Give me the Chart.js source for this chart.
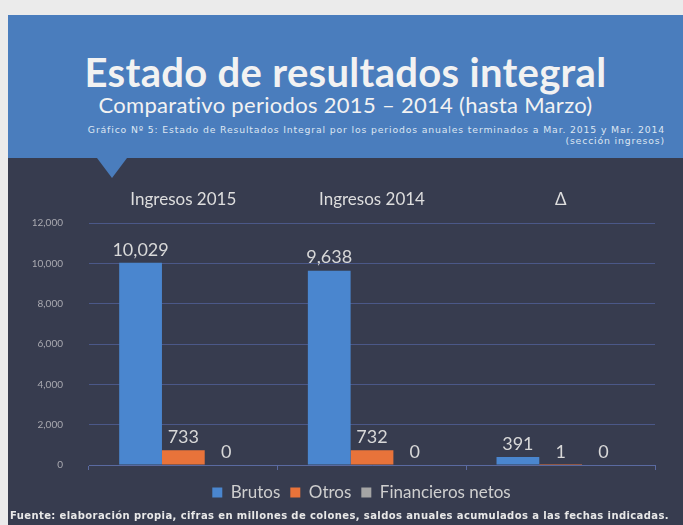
<!DOCTYPE html>
<html>
<head>
<meta charset="utf-8">
<script src="https://cdn.jsdelivr.net/npm/chart.js@4"></script>
<style>
  body { margin: 0; width: 683px; height: 525px; background: #ebebeb; overflow: hidden; font-family: Lato, sans-serif; }
  #header { position: absolute; left: 8px; top: 15px; width: 675px; height: 143px; background: #4a7dbd; color: #f2f2f2; }
  #title { position: absolute; left: 0; width: 675px; top: 33px; text-align: center; font-size: 40px; font-weight: bold; letter-spacing: 0.3px; }
  #subtitle { position: absolute; left: 0; width: 675px; top: 76px; text-align: center; font-size: 22px; letter-spacing: 0.3px; }
  #note { position: absolute; right: 18px; top: 109px; text-align: right; font-family: 'DejaVu Sans', sans-serif; font-size: 9.3px; line-height: 11px; color: #dde6f2; letter-spacing: 0.85px; }
  #panel { position: absolute; left: 8px; top: 158px; width: 675px; height: 367px; background: #373c4f; }
  #pointer { position: absolute; left: 97px; top: 158px; width: 0; height: 0; border-left: 15px solid transparent; border-right: 15px solid transparent; border-top: 20px solid #4a7dbd; }
  #wrap { position: absolute; left: 8px; top: 158px; width: 675px; height: 353px; }
  #footer { position: absolute; left: 10px; top: 510px; font-family: 'DejaVu Sans', sans-serif; font-size: 10px; font-weight: bold; color: #e8e8e8; letter-spacing: 0.4px; }
</style>
</head>
<body>
<div id="header">
  <div id="title">Estado de resultados integral</div>
  <div id="subtitle">Comparativo periodos 2015 – 2014 (hasta Marzo)</div>
  <div id="note">Gráfico Nº 5: Estado de Resultados Integral por los periodos anuales terminados a Mar. 2015 y Mar. 2014<br>(sección ingresos)</div>
</div>
<div id="panel"></div>
<div id="pointer"></div>
<div id="wrap"><canvas id="chart" width="675" height="353"></canvas></div>
<div id="footer">Fuente: elaboración propia, cifras en millones de colones, saldos anuales acumulados a las fechas indicadas.</div>
<script>
const categories = ['Ingresos 2015', 'Ingresos 2014', 'Δ'];
const brutos = [10029, 9638, 391];
const otros = [733, 732, 1];
const financieros = [0, 0, 0];
const yTicks = [0, 2000, 4000, 6000, 8000, 10000, 12000];

// value labels above each bar
const barValues = {
    id: 'barValues',
    afterDatasetsDraw(chart) {
        const ctx = chart.ctx;
        ctx.save();
        ctx.font = '18px Lato, sans-serif';
        ctx.fillStyle = '#d8d8d8';
        ctx.textAlign = 'center';
        ctx.textBaseline = 'bottom';
        chart.data.datasets.forEach((ds, i) => {
            chart.getDatasetMeta(i).data.forEach((bar, j) => {
                ctx.fillText(ds.data[j].toLocaleString('en-US'), bar.x, bar.y - 4);
            });
        });
        ctx.restore();
    }
};

// legend sits a bit right of centre in the original
const legendShift = {
    id: 'legendShift',
    afterLayout(chart) {
        chart.legend.left += 30;
        chart.legend.right += 30;
    }
};

new Chart(document.getElementById('chart'), {
    type: 'bar',
    data: {
        labels: categories,
        datasets: [
            { label: 'Brutos', data: brutos, backgroundColor: '#4a86cf' },
            { label: 'Otros', data: otros, backgroundColor: '#e8733a' },
            { label: 'Financieros netos', data: financieros, backgroundColor: '#a5a5a5' }
        ]
    },
    options: {
        responsive: false,
        animation: false,
        categoryPercentage: 0.68,
        barPercentage: 1,
        layout: { padding: { left: 0, right: 28, top: 0, bottom: 0 } },
        plugins: {
            legend: {
                position: 'bottom',
                labels: { color: '#cfcfcf', font: { size: 17, family: 'Lato' }, boxWidth: 10, boxHeight: 10, padding: 10 }
            },
            tooltip: { enabled: false }
        },
        scales: {
            x: {
                position: 'top',
                grid: { display: false },
                border: { display: false },
                ticks: { color: '#dedede', font: { size: 17, family: 'Lato' }, padding: 5, maxRotation: 0 },
                afterFit: s => { s.height = 65; }
            },
            x2: {
                type: 'category',
                position: 'bottom',
                offset: true,
                grid: { offset: true, drawOnChartArea: false, color: '#5a6aa0', tickLength: 5 },
                border: { color: '#5a6aa0' },
                ticks: { display: false },
                afterFit: s => { s.height = 9; }
            },
            y: {
                min: 0,
                max: 12000,
                afterBuildTicks: s => { s.ticks = yTicks.map(v => ({ value: v })); },
                grid: { color: '#4b5888', tickLength: 0 },
                border: { display: false },
                ticks: {
                    color: '#a9a9b0',
                    font: { size: 10, family: 'Lato' },
                    padding: 26,
                    callback: v => v.toLocaleString('en-US')
                },
                afterFit: s => { s.width = 81; }
            }
        }
    },
    plugins: [barValues, legendShift]
});
</script>
</body>
</html>
